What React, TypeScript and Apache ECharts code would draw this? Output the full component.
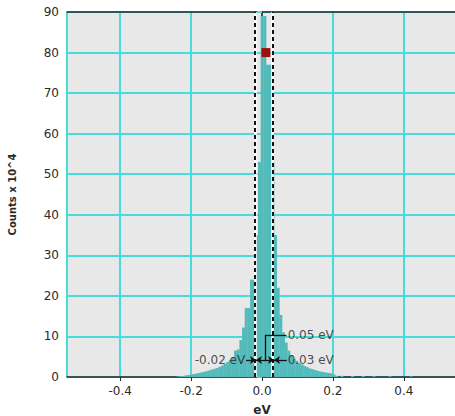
import React, { useEffect, useRef } from "react";
import * as echarts from "echarts";

// Histogram bins (eV), bin width 0.0075, first bin centred at -0.24
const binWidth = 0.0075;
const firstBinCenter = -0.24;
const counts = [
  0.1, 0.2, 0.25, 0.35, 0.45, 0.55, 0.7, 0.8, 0.95, 1.1,
  1.25, 1.4, 1.6, 1.8, 2.0, 2.2, 2.5, 2.8, 3.2, 3.7,
  4.2, 4.9, 6.5, 6.8, 9.1, 12.2, 17, 17, 24, 24,
  35, 53,
  89, 89, 77, 77, 53, 35, 22, 15.3, 11, 8.5,
  6.5, 5.3, 4.5, 4.0, 3.5, 3.1, 2.7, 2.4, 2.1, 1.9,
  1.7, 1.5, 1.35, 1.2, 1.1, 1.0, 0.9, 0.6, 0.3,
];
// sparse tail bins beyond 0.2 eV
const sparseCenters = [0.225, 0.255, 0.285, 0.315, 0.36, 0.42];
const sparseCounts = [0.3, 0.25, 0.25, 0.2, 0.2, 0.15];

const peakMarker = [0.011, 80];
const fwhmLeft = -0.017;
const fwhmRight = 0.034;
const arrowY = 4.2;
const fwhmLabelY = 10.4;
const leftLabel = "-0.02 eV";
const rightLabel = "0.03 eV";
const widthLabel = "0.05 eV";

const xMin = -0.55;
const xMax = 0.55;
const yMax = 90;
const yStep = 10;

const FONT = "DejaVu Sans";
const BAR = "#55baba";
const GRIDC = "#46dcdc";
const AXISC = "#2a2a2a";

export default function App() {
  const ref = useRef<HTMLDivElement>(null);
  useEffect(() => {
    if (!ref.current) return;
    const chart = echarts.init(ref.current, null, { renderer: "svg" });
    const bins: number[][] = [];
    counts.forEach((c, i) => {
      const center = firstBinCenter + i * binWidth;
      bins.push([center - binWidth / 2, center + binWidth / 2, c]);
    });
    sparseCenters.forEach((c, i) => {
      bins.push([c - binWidth / 2, c + binWidth / 2, sparseCounts[i]]);
    });
    const fwhmMid = (fwhmLeft + fwhmRight) / 2;

    chart.setOption({
      animation: false,
      backgroundColor: "#ffffff",
      grid: {
        left: 67,
        top: 12,
        bottom: 39,
        width: 390,
        show: true,
        backgroundColor: "#e8e8e8",
        borderWidth: 0,
        containLabel: false,
        outerBoundsMode: "none",
      },
      xAxis: [
        {
          type: "value",
          min: xMin,
          max: xMax,
          splitNumber: 5,
          name: "eV",
          nameLocation: "middle",
          nameGap: 27,
          nameTextStyle: { fontFamily: FONT, fontSize: 12, fontWeight: "bold", color: AXISC },
          axisLine: { show: true, onZero: false, lineStyle: { color: AXISC, width: 1.5 } },
          axisTick: { show: true, length: 4, lineStyle: { color: AXISC } },
          axisLabel: {
            showMinLabel: false,
            showMaxLabel: false,
            fontFamily: FONT,
            fontSize: 12,
            color: AXISC,
            margin: 8,
            formatter: (v: number) => v.toFixed(1),
          },
          splitLine: { show: true, lineStyle: { color: GRIDC, width: 2 } },
        },
        {
          type: "value",
          position: "top",
          min: xMin,
          max: xMax,
          axisLine: { show: true, onZero: false, lineStyle: { color: AXISC, width: 1.5 } },
          axisTick: { show: false },
          axisLabel: { show: false },
          splitLine: { show: false },
        },
      ],
      yAxis: {
        type: "value",
        min: 0,
        max: yMax,
        interval: yStep,
        name: "Counts x 10^4",
        nameLocation: "middle",
        nameGap: 50,
        nameTextStyle: { fontFamily: FONT, fontSize: 10, fontWeight: "bold", color: AXISC },
        axisLine: { show: true, lineStyle: { color: AXISC, width: 1.5 } },
        axisTick: { show: true, length: 5, lineStyle: { color: GRIDC, width: 2 } },
        axisLabel: { fontFamily: FONT, fontSize: 12, color: AXISC, margin: 8 },
        splitLine: { show: true, lineStyle: { color: GRIDC, width: 2 } },
      },
      series: [
        {
          type: "custom",
          z: 2,
          clip: true,
          silent: true,
          encode: { x: [0, 1], y: 2 },
          data: bins,
          renderItem: (params: any, api: any) => {
            const p0 = api.coord([api.value(0), api.value(2)]);
            const p1 = api.coord([api.value(1), 0]);
            return {
              type: "rect",
              shape: { x: p0[0], y: p0[1], width: p1[0] - p0[0] + 0.4, height: p1[1] - p0[1] },
              style: { fill: BAR },
            };
          },
        },
        {
          type: "scatter",
          z: 3,
          data: [],
          silent: true,
          markLine: {
            silent: true,
            symbol: ["none", "none"],
            label: { show: false },
            lineStyle: { color: "#ffffff", width: 2.5, type: "solid" },
            data: [{ xAxis: fwhmLeft }, { xAxis: fwhmRight }],
          },
        },
        {
          type: "scatter",
          z: 4,
          data: [],
          silent: true,
          markLine: {
            silent: true,
            symbol: ["none", "none"],
            label: { show: false },
            lineStyle: { color: "#111111", width: 2, type: [4, 3] },
            data: [{ xAxis: fwhmLeft }, { xAxis: fwhmRight }],
          },
        },
        {
          type: "scatter",
          z: 5,
          silent: true,
          symbol: "rect",
          symbolSize: 9,
          itemStyle: { color: "#9e1010", opacity: 1 },
          data: [peakMarker],
        },
        {
          type: "scatter",
          z: 6,
          silent: true,
          symbolSize: 1,
          itemStyle: { color: "rgba(0,0,0,0)" },
          label: { show: true, fontFamily: FONT, fontSize: 12, color: "#222222" },
          data: [
            { value: [-0.046, arrowY], label: { position: "left", distance: 0, formatter: leftLabel } },
            { value: [0.071, arrowY], label: { position: "right", distance: 0, formatter: rightLabel } },
            { value: [0.071, fwhmLabelY], label: { position: "right", distance: 0, formatter: widthLabel } },
          ],
          markLine: {
            silent: true,
            symbolSize: 6,
            label: { show: false },
            lineStyle: { color: "#111111", width: 1.3, type: "solid" },
            data: [
              [
                { coord: [-0.045, arrowY], symbol: "none" },
                { coord: [fwhmLeft, arrowY], symbol: "arrow" },
              ],
              [
                { coord: [fwhmLeft, arrowY], symbol: "arrow" },
                { coord: [fwhmRight, arrowY], symbol: "arrow" },
              ],
              [
                { coord: [0.07, arrowY], symbol: "none" },
                { coord: [fwhmRight, arrowY], symbol: "arrow" },
              ],
              [
                { coord: [fwhmMid, arrowY], symbol: "none" },
                { coord: [fwhmMid, fwhmLabelY], symbol: "none" },
              ],
              [
                { coord: [fwhmMid, fwhmLabelY], symbol: "none" },
                { coord: [0.069, fwhmLabelY], symbol: "none" },
              ],
            ],
          },
        },
      ],
    });
    return () => chart.dispose();
  }, []);
  return (
    <div
      ref={ref}
      style={{ position: "absolute", left: 0, top: 0, width: 455, height: 416 }}
    />
  );
}
